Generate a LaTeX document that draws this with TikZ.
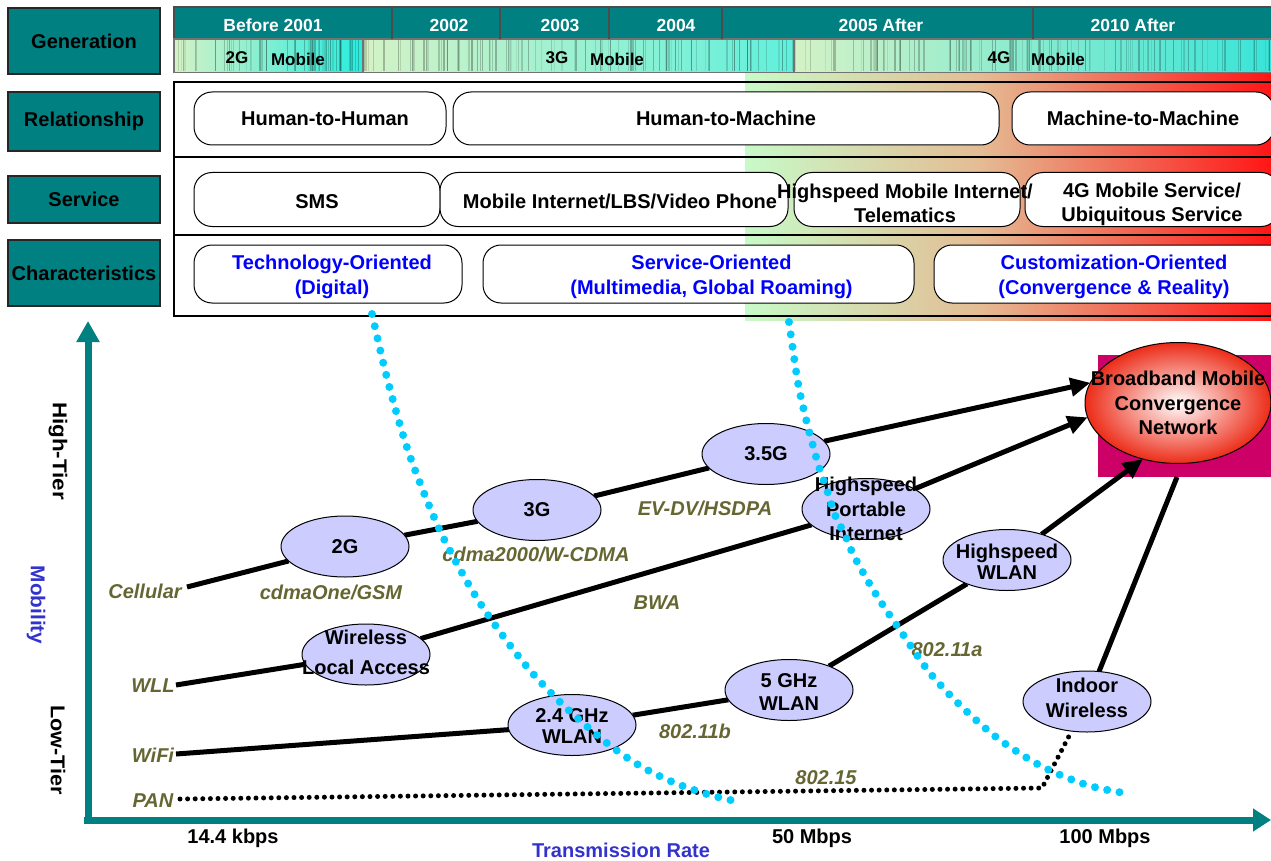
\documentclass[tikz,border=0pt]{standalone}
\usepackage{fontspec}
\setmainfont{Liberation Sans}
\usetikzlibrary{arrows.meta,shapes.geometric}

\definecolor{teal0}{RGB}{0,128,128}
\definecolor{olive0}{RGB}{102,102,51}
\definecolor{lav}{RGB}{204,204,255}
\definecolor{dotcyan}{RGB}{0,204,255}
\definecolor{crimson}{RGB}{204,0,102}
\definecolor{blue0}{RGB}{0,0,255}
\definecolor{axisblue}{RGB}{51,51,204}
\definecolor{fadeA}{RGB}{200,250,200}
\definecolor{fadeB}{RGB}{212,228,182}
\definecolor{fadeC}{RGB}{228,188,148}
\definecolor{fadeD}{RGB}{246,112,92}
\definecolor{fadeE}{RGB}{255,22,22}
\definecolor{stripPale}{RGB}{212,242,198}
\definecolor{stripMint}{RGB}{150,226,196}
\definecolor{stripCyan}{RGB}{40,236,222}
\definecolor{netRed}{RGB}{236,44,24}

\pgfdeclarelayer{under}
\pgfdeclarelayer{links}
\pgfsetlayers{under,links,main}

\begin{document}
\begin{tikzpicture}[x=1pt,y=-1pt,
  every node/.style={inner sep=0pt, outer sep=0pt, font=\fontsize{20}{24.5}\selectfont\bfseries},
  sidebox/.style={draw=black!85, line width=2pt, fill=teal0, minimum width=152pt},
  rbox/.style={draw=black, line width=1pt, fill=white, rounded corners=18pt},
  boxtext/.style={align=center},
  bluetext/.style={align=center, text=blue0},
  hdrtext/.style={text=white, font=\fontsize{17.5}{20}\selectfont\bfseries},
  striptext/.style={font=\fontsize{17}{20}\selectfont\bfseries},
  tech/.style={ellipse, draw=black, line width=1pt, fill=lav, minimum width=128pt, minimum height=61pt},
  elltext/.style={align=center},
  link/.style={draw=black, line width=5pt},
  feed/.style={link, -{Triangle[length=20pt,width=18pt]}},
  tag/.style={text=olive0, font=\fontsize{20}{24}\selectfont\bfseries\itshape},
  cyandots/.style={draw=dotcyan, line width=8pt, line cap=round, dash pattern=on 0pt off 12.5pt},
  pandots/.style={draw=black, line width=5pt, line cap=round, dash pattern=on 0pt off 7.6pt},
  axisline/.style={draw=teal0, line width=7pt},
  axislbl/.style={text=axisblue}
]
\useasboundingbox (0,0) rectangle (1271,861);
\clip (0,0) rectangle (1271,861);

% ---------- colour fade behind the right part of the table ----------
\shade[left color=fadeA, middle color=fadeB, right color=fadeC] (745,73) rectangle (980,320);
\shade[left color=fadeC, middle color=fadeD, right color=fadeE] (979.5,73) rectangle (1271,320);

% ---------- generation header and strip ----------
\fill[teal0] (174,7) rectangle (1275,39);
\shade[left color=stripPale, middle color=stripMint, right color=stripCyan] (174,39) rectangle (363,72);
\shade[left color=stripPale, middle color={rgb,255:red,176;green,240;blue,200}, right color={rgb,255:red,96;green,240;blue,220}] (363,39) rectangle (794,72);
\shade[left color=stripPale, middle color={rgb,255:red,96;green,236;blue,216}, right color={rgb,255:red,56;green,228;blue,216}] (794,39) rectangle (1275,72);
\pgfmathsetseed{7}
\foreach \k in {1,...,260}{
  \pgfmathsetmacro\sx{174+1097*rnd}
  \pgfmathsetmacro\sw{0.4+1.4*rnd}
  \pgfmathsetmacro\so{0.06+0.22*rnd}
  \draw[black, opacity=\so, line width=\sw pt] (\sx,39.5) -- (\sx,71.5);
}
\draw[black!70, line width=1.2pt] (174,7) rectangle (1275,39);
\draw[black!55, line width=1.2pt] (174,39) rectangle (1275,72.5);
\draw[black!55, line width=1.2pt] (363,39) -- (363,72.5) (794,39) -- (794,72.5);
\foreach \dx in {392,500,609,722,1033}{
  \draw[black!70, line width=1.2pt] (\dx,7) -- (\dx,39);
}
\node[hdrtext] (yr2001) at (273,25) {Before 2001};
\node[hdrtext] (yr2002) at (449,25) {2002};
\node[hdrtext] (yr2003) at (560,25) {2003};
\node[hdrtext] (yr2004) at (676,25) {2004};
\node[hdrtext] (yr2005) at (881,25) {2005 After};
\node[hdrtext] (yr2010) at (1133,25) {2010 After};
\node[striptext] (g2) at (237,58) {2G};
\node[striptext] (g2m) at (298,59) {Mobile};
\node[striptext] (g3) at (557,58) {3G};
\node[striptext] (g3m) at (617,59) {Mobile};
\node[striptext] (g4) at (999,58) {4G};
\node[striptext] (g4m) at (1058,59) {Mobile};

% ---------- table frame ----------
\draw[black, line width=1.5pt] (174,82) rectangle (1290,316);
\draw[black, line width=1.5pt] (174,157) -- (1275,157) (174,235) -- (1275,235);

% ---------- row labels ----------
\node[sidebox, minimum height=66pt] (rgen) at (84,41) {Generation};
\node[sidebox, minimum height=59pt] (rrel) at (84,121.5) {Relationship};
\node[sidebox, minimum height=47pt] (rsrv) at (84,199.5) {Service};
\node[sidebox, minimum height=66pt] (rchr) at (84,273) {Characteristics};

% ---------- relationship row ----------
\node[rbox, minimum width=252pt, minimum height=53pt, label={[boxtext,xshift=5pt]center:Human-to-Human}] (hh) at (320,118.5) {};
\node[rbox, minimum width=546pt, minimum height=53pt, label={[boxtext]center:Human-to-Machine}] (hm) at (726,118.5) {};
\node[rbox, minimum width=262pt, minimum height=53pt, label={[boxtext]center:Machine-to-Machine}] (mm) at (1143,118.5) {};

% ---------- service row ----------
\node[rbox, minimum width=246pt, minimum height=54pt, label={[boxtext,yshift=-2pt]center:SMS}] (sms) at (317,199.5) {};
\node[rbox, minimum width=348pt, minimum height=54pt, label={[boxtext,xshift=6pt,yshift=-2pt]center:Mobile Internet/LBS/Video Phone}] (mi) at (614,199.5) {};
\node[rbox, minimum width=254pt, minimum height=54pt, label={[boxtext,yshift=-5pt]center:{4G Mobile Service/\\Ubiquitous Service}}] (ubq) at (1152,199.5) {};
\node[rbox, minimum width=226pt, minimum height=54pt, label={[boxtext,xshift=-2pt,yshift=-4pt]center:{Highspeed Mobile Internet/\\Telematics}}] (hsmi) at (907,199.5) {};

% ---------- characteristics row ----------
\node[rbox, minimum width=268pt, minimum height=58pt, label={[bluetext,xshift=4pt,yshift=-3pt]center:{Technology-Oriented\\(Digital)}}] (techor) at (328,274) {};
\node[rbox, minimum width=431pt, minimum height=58pt, label={[bluetext,xshift=13pt,yshift=-3pt]center:{Service-Oriented\\(Multimedia, Global Roaming)}}] (servor) at (698.5,274) {};
\node[rbox, minimum width=360pt, minimum height=58pt, label={[bluetext,yshift=-3pt]center:{Customization-Oriented\\(Convergence \& Reality)}}] (custor) at (1114,274) {};

% ---------- axes ----------
\coordinate (origin) at (88,820);
\coordinate (xleft) at (84,820);
\coordinate (ytip) at (88,321);
\coordinate (xtip) at (1271,820);
\draw[axisline, -{Triangle[length=21pt,width=22pt]}] (origin) -- (ytip);
\draw[axisline, -{Triangle[length=18pt,width=22pt]}] (xleft) -- (xtip);
\node[rotate=-90] (hightier) at (58,451) {\scalebox{1.12}[1]{High-Tier}};
\node[rotate=-90, axislbl] (mob) at (36,605) {\scalebox{1.04}[1]{Mobility}};
\node[rotate=-90] (lowtier) at (58,750) {\scalebox{1.08}[1]{Low-Tier}};
\node (r144) at (233,838) {14.4 kbps};
\node (r50) at (812,838) {50 Mbps};
\node (r100) at (1105,838) {100 Mbps};
\node[axislbl] (xname) at (621,850) {Transmission Rate};

% ---------- technologies ----------
\begin{pgfonlayer}{under}
  \fill[crimson] (1098,355) rectangle (1275,477);
\end{pgfonlayer}
\node[ellipse, draw=black, line width=1pt, inner color=white, outer color=netRed, minimum width=186pt, minimum height=121pt,
      label={[elltext]center:{Broadband Mobile\\Convergence\\Network}}] (bmcn) at (1178,403) {};

\node[tech, label={[elltext]center:2G}] (t2g) at (345,546.5) {};
\node[tech, label={[elltext]center:3G}] (t3g) at (537,510) {};
\node[tech, label={[elltext]center:3.5G}] (t35g) at (766,454) {};
\node[tech, label={[elltext]center:{Highspeed\\Portable\\Internet}}] (hpi) at (866,509) {};
\node[tech, label={[elltext,yshift=2pt]center:{Wireless\\[5.5pt]Local Access}}] (wla) at (366,654.5) {};
\node[tech, label={[elltext,yshift=-1.5pt]center:{2.4 GHz\\[-3.5pt]WLAN}}] (wl24) at (572,725) {};
\node[tech, label={[elltext,yshift=-2pt]center:{5 GHz\\[-1.5pt]WLAN}}] (wl5) at (789,690) {};
\node[tech, label={[elltext,yshift=-2pt]center:{Highspeed\\[-3.5pt]WLAN}}] (hsw) at (1007,560) {};
\node[tech, label={[elltext,yshift=3.5pt]center:{Indoor\\Wireless}}] (iw) at (1087,701.5) {};

\coordinate (cell0) at (187,587);
\coordinate (wll0) at (176,685);
\coordinate (wifi0) at (176,754);
\coordinate (pan0) at (180,799);
\coordinate (pankink) at (1042,788);
\coordinate (bmcnfoot) at (1177,477);

\begin{pgfonlayer}{links}
  \draw[link] (cell0) -- (t2g);
  \draw[link] (t2g) -- (t3g);
  \draw[link] (t3g) -- (t35g);
  \draw[feed] (t35g) -- (bmcn.167);
  \draw[link] (wll0) -- (wla);
  \draw[link] (wla) -- (hpi);
  \draw[feed] (hpi) -- (bmcn.189);
  \draw[link] (wifi0) -- (wl24);
  \draw[link] (wl24) -- (wl5);
  \draw[link] (wl5) -- (hsw);
  \draw[feed] (hsw) -- (bmcn.238);
  \draw[link] (iw) -- (bmcnfoot);
  \draw[pandots] (pan0) -- (pankink) -- (iw);
\end{pgfonlayer}

\node[tag] (lcell) at (145,591) {Cellular};
\node[tag] (lone) at (331,592) {cdmaOne/GSM};
\node[tag] (l2000) at (536,554) {cdma2000/W-CDMA};
\node[tag] (lev) at (705,508) {EV-DV/HSDPA};
\node[tag] (lbwa) at (657,603) {BWA};
\node[tag] (lwll) at (153,686) {WLL};
\node[tag] (lwifi) at (153,755) {WiFi};
\node[tag] (lpan) at (153,801) {PAN};
\node[tag] (l11b) at (695,731) {802.11b};
\node[tag] (l11a) at (947,650) {802.11a};
\node[tag] (l15) at (826,778) {802.15};

% ---------- generation boundaries ----------
\draw[cyandots] plot[smooth, tension=0.55] coordinates {
  (372,314) (385,370) (400,425) (415,470) (443,537) (480,603) (523,662)
  (557,699) (583,723) (612,747) (642,767) (675,783) (710,795) (735,801)};
\draw[cyandots] plot[smooth, tension=0.55] coordinates {
  (789,322) (798,383) (806,419) (812,442) (819,467) (827,490) (835,515)
  (845,535) (855,558) (877,596) (902,633) (930,673) (963,708) (1000,740)
  (1043,767) (1087,785) (1124,793)};
\end{tikzpicture}
\end{document}
